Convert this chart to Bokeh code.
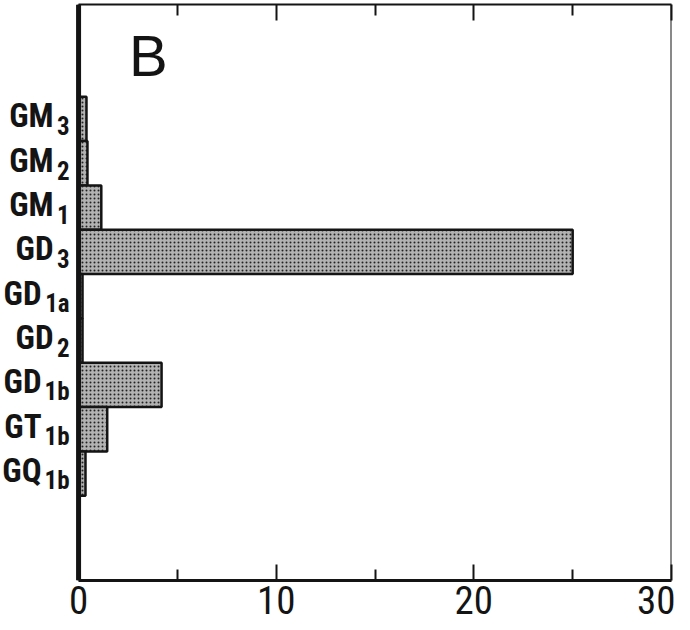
from bokeh.plotting import figure
from bokeh.models import (Range1d, LinearAxis, FixedTicker, ColumnDataSource, Label, Span,
                          CustomJSTickFormatter)
from bokeh.core.properties import value
from bokeh.embed import file_html
from bokeh.resources import INLINE

# ---- data ----
cat_main = ["GM", "GM", "GM", "GD", "GD", "GD", "GD", "GT", "GQ"]
cat_sub = ["3", "2", "1", "3", "1a", "2", "1b", "1b", "1b"]
values = [0.4, 0.45, 1.15, 25.0, 0.2, 0.2, 4.2, 1.45, 0.35]
x_ticks = [0, 10, 20, 30]
x_minor = [5, 15, 25]
panel = "B"

n = len(cat_main)
pos = [n - i for i in range(n)]
SUB_CHAR = 12.0
moff = [-(9 + SUB_CHAR * len(s) + 4) for s in cat_sub]

src = ColumnDataSource(dict(pos=pos, val=values, main=cat_main, sub=cat_sub, moff=moff))

COND = "Roboto Condensed"
INK = "#141414"

p = figure(width=675, height=630, x_range=Range1d(-3.95, 30), y_range=Range1d(-1.41, 11.58),
           output_backend="svg", toolbar_location=None, y_axis_location=None,
           min_border_left=0, min_border_right=4, min_border_top=4, min_border_bottom=50)
p.outline_line_color = None
p.grid.visible = False

xa = p.xaxis[0]
xa.ticker = FixedTicker(ticks=x_ticks, minor_ticks=x_minor)
xa.bounds = (0, 30)
xa.axis_line_width = 3
xa.axis_line_color = INK
xa.major_tick_in = 16
xa.major_tick_out = 0
xa.minor_tick_in = 11
xa.minor_tick_out = 0
xa.major_tick_line_width = 2
xa.minor_tick_line_width = 2
xa.major_tick_line_color = INK
xa.minor_tick_line_color = INK
xa.major_label_standoff = 5
xa.major_label_text_font = COND
xa.major_label_text_font_size = "39px"
xa.major_label_text_color = INK

top = LinearAxis(ticker=FixedTicker(ticks=x_ticks, minor_ticks=x_minor), bounds=(0, 30),
                 formatter=CustomJSTickFormatter(code="return ''"),
                 major_tick_in=16, major_tick_out=0, minor_tick_in=11, minor_tick_out=0,
                 major_tick_line_width=2, minor_tick_line_width=2,
                 major_tick_line_color=INK, minor_tick_line_color=INK,
                 axis_line_width=2, axis_line_color=INK, major_label_standoff=0)
p.add_layout(top, "above")

p.add_layout(Span(location=0, dimension="height", line_color=INK, line_width=5))
p.add_layout(Span(location=30, dimension="height", line_color=INK, line_width=2))

p.hbar(y="pos", left=0, right="val", height=1, source=src,
       fill_color="#b2b2b2", hatch_pattern="dot", hatch_color="#222222",
       hatch_scale=4, hatch_weight=2.4,
       line_color=INK, line_width=2.5)

p.text(x=0, y="pos", text="main", source=src, x_offset="moff", y_offset=-3,
       text_align="right", text_baseline="alphabetic",
       text_font=value(COND), text_font_style="bold",
       text_font_size="33px", text_color=INK)
p.text(x=0, y="pos", text="sub", source=src, x_offset=-9, y_offset=7,
       text_align="right", text_baseline="alphabetic",
       text_font=value(COND), text_font_style="bold",
       text_font_size="25px", text_color=INK)

p.add_layout(Label(x=2.55, y=10.43, text=panel, text_font="Liberation Sans",
                   text_font_size="58px", text_color=INK,
                   text_baseline="alphabetic", text_align="left"))

open("out.html", "w").write(file_html(p, INLINE))
